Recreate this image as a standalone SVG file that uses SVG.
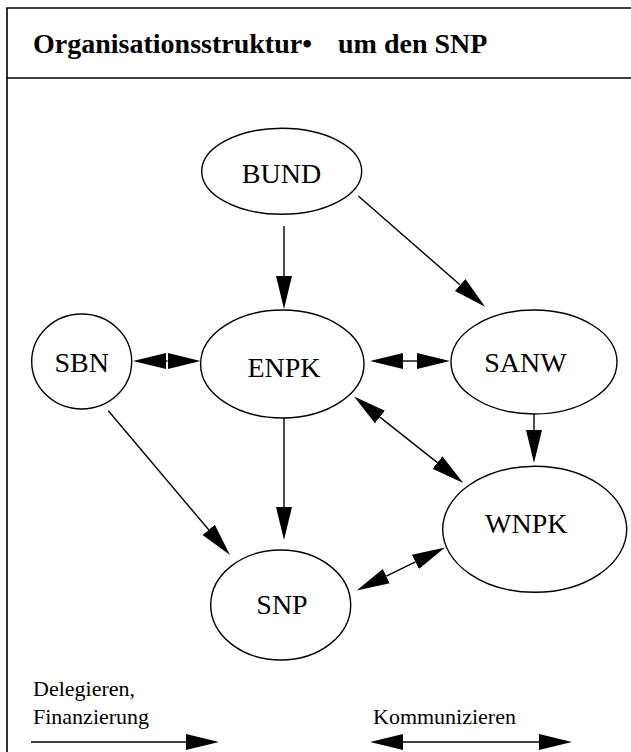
<svg xmlns="http://www.w3.org/2000/svg" width="631" height="752" viewBox="0 0 631 752">
<style>
  .frame { stroke: #000; stroke-width: 1.6; fill: none; }
  .node ellipse { fill: #fff; stroke: #000; stroke-width: 1.4; }
  .edge { stroke: #000; stroke-width: 1.4; fill: none; }
  text { fill: #000; }
  .lbl { font-size: 28px; text-anchor: middle; }
  .title { font-size: 28px; font-weight: bold; }
  .legend { font-size: 22px; }
</style>
<defs>
  <marker id="ah" markerUnits="userSpaceOnUse" markerWidth="34" markerHeight="18" viewBox="0 0 34 18" refX="0" refY="9" orient="auto-start-reverse">
    <path d="M0,1 L33,9 L0,17 z" fill="#000"/>
  </marker>
</defs>
<rect width="631" height="752" fill="#fff"/>
<g font-family="Liberation Serif, DejaVu Serif, serif">
<g id="frame">
  <path class="frame" d="M7,752 L7,8 L631,8 M7,78 L631,78"/>
  <text class="title" x="33" y="53">Organisationsstruktur•<tspan x="338">um den SNP</tspan></text>
</g>
<g id="connectors">
  <line class="edge" x1="284" y1="226" x2="284" y2="276" marker-end="url(#ah)"/>
  <line class="edge" x1="358.3" y1="196" x2="460.2" y2="285" marker-end="url(#ah)"/>
  <line class="edge" x1="166" y1="361" x2="167.5" y2="361" marker-start="url(#ah)" marker-end="url(#ah)"/>
  <line class="edge" x1="403" y1="361" x2="417" y2="361" marker-start="url(#ah)" marker-end="url(#ah)"/>
  <line class="edge" x1="534" y1="414" x2="534" y2="430" marker-end="url(#ah)"/>
  <line class="edge" x1="284" y1="417" x2="284" y2="507" marker-end="url(#ah)"/>
  <line class="edge" x1="108.3" y1="410.7" x2="208.7" y2="529.8" marker-end="url(#ah)"/>
  <line class="edge" x1="379.9" y1="417.1" x2="437.4" y2="462.6" marker-start="url(#ah)" marker-end="url(#ah)"/>
  <line class="edge" x1="386.3" y1="576.1" x2="415.4" y2="561.9" marker-start="url(#ah)" marker-end="url(#ah)"/>
</g>
<g id="BUND" class="node">
  <ellipse cx="281.7" cy="171.3" rx="80" ry="43"/>
  <text class="lbl" x="281.5" y="183">BUND</text>
</g>
<g id="SBN" class="node">
  <ellipse cx="81.7" cy="361.5" rx="50" ry="47.5"/>
  <text class="lbl" x="81.7" y="371.5">SBN</text>
</g>
<g id="ENPK" class="node">
  <ellipse cx="282.3" cy="364" rx="81.7" ry="54"/>
  <text class="lbl" x="284" y="377">ENPK</text>
</g>
<g id="SANW" class="node">
  <ellipse cx="534" cy="362" rx="83" ry="52"/>
  <text class="lbl" x="525.5" y="372">SANW</text>
</g>
<g id="WNPK" class="node">
  <ellipse cx="534.7" cy="529.3" rx="92" ry="63"/>
  <text class="lbl" x="526.3" y="533">WNPK</text>
</g>
<g id="SNP" class="node">
  <ellipse cx="280.7" cy="605" rx="70" ry="55"/>
  <text class="lbl" x="282" y="614">SNP</text>
</g>
<g id="legend">
  <text class="legend" x="33" y="696">Delegieren,</text>
  <text class="legend" x="33" y="724">Finanzierung</text>
  <line class="edge" x1="31" y1="742" x2="186" y2="742" marker-end="url(#ah)"/>
  <text class="legend" x="373" y="724">Kommunizieren</text>
  <line class="edge" x1="403" y1="742" x2="539" y2="742" marker-start="url(#ah)" marker-end="url(#ah)"/>
</g>
</g>
</svg>
